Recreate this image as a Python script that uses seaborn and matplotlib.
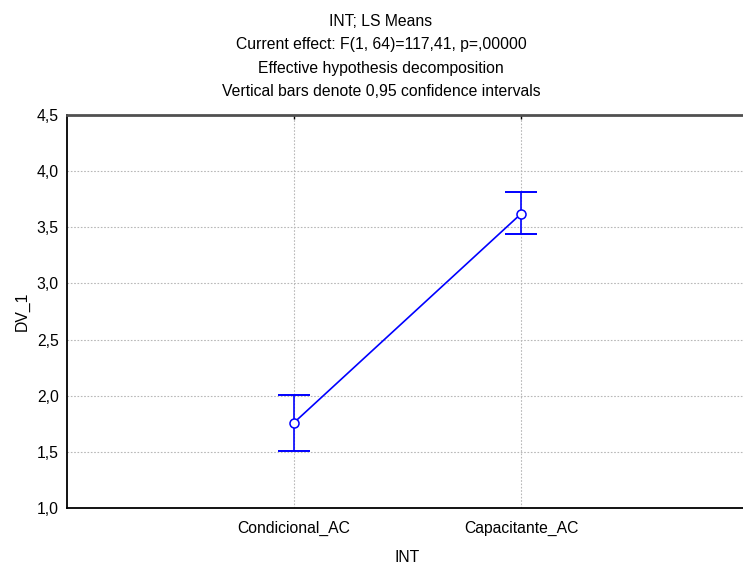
import matplotlib
matplotlib.use("Agg")
import matplotlib.pyplot as plt
import seaborn as sns
import numpy as np

# LS means of DV_1 per INT level, with 0.95 confidence limits
categories = ["Condicional_AC", "Capacitante_AC"]
means = [1.76, 3.62]
ci_lower = [1.51, 3.44]
ci_upper = [2.01, 3.81]

y_ticks = [1.0, 1.5, 2.0, 2.5, 3.0, 3.5, 4.0, 4.5]
y_tick_labels = ["1,0", "1,5", "2,0", "2,5", "3,0", "3,5", "4,0", "4,5"]

title_lines = [
    "INT; LS Means",
    "Current effect: F(1, 64)=117,41, p=,00000",
    "Effective hypothesis decomposition",
    "Vertical bars denote 0,95 confidence intervals",
]

sns.set_theme(style="white")
plt.rcParams["font.family"] = ["Liberation Sans", "DejaVu Sans"]

FS = 11.3
W, H = 743, 565
fig = plt.figure(figsize=(W / 100, H / 100), dpi=100)
ax = fig.add_axes([67 / W, (H - 508) / H, 681 / W, 393 / H])

blue = "#0000FF"
sns.pointplot(x=categories, y=means, color=blue, errorbar=None, ax=ax,
              markers="o", markersize=6.5, linewidth=1.2,
              markerfacecolor="white", markeredgecolor=blue,
              markeredgewidth=1.1, zorder=4)

pos = np.arange(len(categories))
m = np.array(means)
yerr = np.vstack([m - np.array(ci_lower), np.array(ci_upper) - m])
ax.errorbar(pos, m, yerr=yerr, fmt="none", ecolor=blue, elinewidth=1.2,
            capsize=11.5, capthick=1.4, zorder=3)
# keep the circle markers above the interval bars
for line in ax.lines:
    line.set_zorder(5)

ax.set_xlim(-1, 2)
ax.set_ylim(1.0, 4.5)
ax.set_yticks(y_ticks)
ax.set_yticklabels(y_tick_labels)
ax.set_xticks(pos)
ax.set_xticklabels(categories)

ax.grid(True, color="#b8b8b8", linestyle=(0, (1.5, 1.5)), linewidth=0.8)
ax.set_axisbelow(True)

ax.tick_params(axis="both", direction="in", length=3, width=1, color="black",
               labelsize=FS, labelcolor="black")
ax.tick_params(axis="y", pad=6)
ax.tick_params(axis="x", pad=9)
ax.tick_params(axis="x", top=True)

for side in ["left", "bottom"]:
    ax.spines[side].set_color("black")
    ax.spines[side].set_linewidth(1.3)
ax.spines["top"].set_color("#505050")
ax.spines["top"].set_linewidth(2.0)
ax.spines["right"].set_visible(False)

ax.set_xlabel("INT", fontsize=FS, color="black", labelpad=10)
ax.set_ylabel("DV_1", fontsize=FS, color="black", labelpad=5)

for i, t in enumerate(title_lines):
    fig.text(381 / W, 1 - (22 + 23 * i) / H, t, ha="center", va="center",
             fontsize=FS, color="black")

fig.savefig("out.png", dpi=100)
